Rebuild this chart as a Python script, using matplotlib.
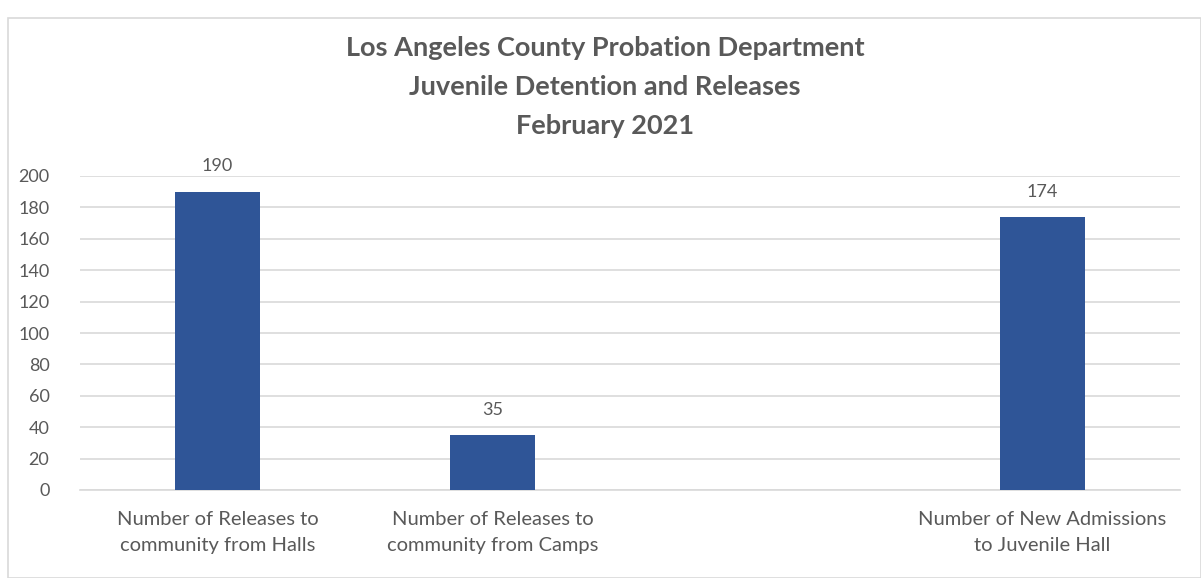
import matplotlib
matplotlib.use("Agg")
import matplotlib.pyplot as plt
from matplotlib.patches import Rectangle
import numpy as np

# ── Data ──────────────────────────────────────────────────────────────────────
CATEGORIES = [
    "Number of Releases to\ncommunity from Halls",
    "Number of Releases to\ncommunity from Camps",
    "",
    "Number of New Admissions\nto Juvenile Hall",
]
VALUES = [190, 35, None, 174]
YTICKS = [0, 20, 40, 60, 80, 100, 120, 140, 160, 180, 200]

TITLE = ("Los Angeles County Probation Department\n"
         "Juvenile Detention and Releases\n"
         "February 2021")

BAR_COLOR = "#2f5597"
TEXT_GREY = "#595959"
GRID_GREY = "#d9d9d9"

plt.rcParams["font.family"] = ["Lato", "DejaVu Sans"]

W, H = 1201, 578
fig = plt.figure(figsize=(W / 100, H / 100), dpi=100)

# chart frame
fig.patches.append(Rectangle((8 / W, 0), (W - 8) / W, (H - 18) / H,
                             transform=fig.transFigure, fill=False,
                             edgecolor="#d9d9d9", linewidth=1.2))

ax = fig.add_axes([80 / W, 1 - 490 / H, 1100 / W, (490 - 176) / H])

x = np.arange(len(CATEGORIES))
heights = [v if v is not None else 0 for v in VALUES]
ax.bar(x, heights, width=0.31, color=BAR_COLOR, zorder=3)

for xi, v in zip(x, VALUES):
    if v is not None:
        ax.text(xi, v + 11, str(v), ha="center", va="bottom",
                fontsize=13, color=TEXT_GREY)

ax.set_xlim(-0.5, len(CATEGORIES) - 0.5)
ax.set_ylim(0, 200)
ax.set_yticks(YTICKS)
ax.yaxis.grid(True, color=GRID_GREY, linewidth=1.2, zorder=0)
ax.set_axisbelow(True)
for s in ["top", "right", "left"]:
    ax.spines[s].set_visible(False)
ax.spines["bottom"].set_color(GRID_GREY)
ax.spines["bottom"].set_linewidth(1.2)
ax.tick_params(axis="y", length=0, labelsize=13, labelcolor=TEXT_GREY, pad=22)
ax.tick_params(axis="x", length=0, labelsize=14.5, labelcolor=TEXT_GREY, pad=15)
ax.set_xticks(x)
ax.set_xticklabels(CATEGORIES, linespacing=1.65)

fig.text(605 / W, 1 - 87 / H, TITLE, ha="center", va="center",
         fontsize=19.5, fontweight="bold", color=TEXT_GREY, linespacing=1.75)

fig.savefig("out.png", dpi=100)
